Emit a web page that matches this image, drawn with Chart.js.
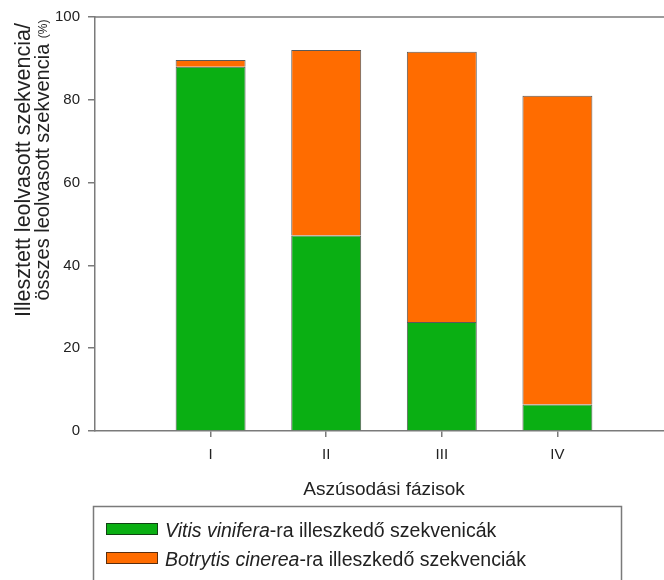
<!DOCTYPE html>
<html>
<head>
<meta charset="utf-8">
<script src="https://cdn.jsdelivr.net/npm/chart.js@4/dist/chart.umd.min.js"></script>
<style>
  html, body { margin: 0; padding: 0; background: #fff; overflow: hidden; }
  canvas { display: block; }
</style>
</head>
<body>
<canvas id="chart" width="664" height="580"></canvas>
<script>
// Phases of noble-rot development and share of mapped reads (%)
const phases = ['I', 'II', 'III', 'IV'];
const vitisShare = [88.0, 47.2, 26.3, 6.4];
const botrytisShare = [1.6, 44.8, 65.3, 74.6];
const yTicks = [0, 20, 40, 60, 80, 100];

const seriesLabels = [
  ['Vitis vinifera', '-ra illeszkedő szekvenicák'],
  ['Botrytis cinerea', '-ra illeszkedő szekvenciák']
];
const xTitle = 'Aszúsodási fázisok';
const yTitleLines = ['Illesztett leolvasott szekvencia/', 'összes leolvasott szekvencia'];
const yTitleUnit = '(%)';

const GREEN = '#0aaf13';
const ORANGE = '#ff6c00';
const AXIS = '#7a7a7a';
const TEXT = '#222';
const BAR_EDGE = 'rgba(20,20,20,0.7)';
const FONT = '"Liberation Sans", Arial, sans-serif';

const toPoints = vals => vals.map((v, i) => ({ x: i + 1, y: v }));

// Frame line, axis titles and the boxed legend
const decorations = {
  id: 'decorations',
  afterDraw(chart) {
    const { ctx, chartArea: a } = chart;
    ctx.save();

    // top frame line
    ctx.strokeStyle = AXIS;
    ctx.lineWidth = 1.5;
    ctx.beginPath();
    ctx.moveTo(a.left, a.top);
    ctx.lineTo(a.right, a.top);
    ctx.stroke();

    // x axis title
    ctx.fillStyle = TEXT;
    ctx.font = '19px ' + FONT;
    ctx.textAlign = 'center';
    ctx.textBaseline = 'alphabetic';
    ctx.fillText(xTitle, 384, 495);

    // y axis title, two rotated lines
    ctx.save();
    ctx.translate(24, 170);
    ctx.rotate(-Math.PI / 2);
    ctx.textBaseline = 'middle';
    ctx.textAlign = 'center';
    ctx.font = '21.5px ' + FONT;
    ctx.fillText(yTitleLines[0], 0, 0);
    ctx.restore();

    ctx.save();
    ctx.translate(43, 160);
    ctx.rotate(-Math.PI / 2);
    ctx.textBaseline = 'middle';
    ctx.font = '20px ' + FONT;
    const w1 = ctx.measureText(yTitleLines[1] + ' ').width;
    ctx.font = '12px ' + FONT;
    const w2 = ctx.measureText(yTitleUnit).width;
    const start = -(w1 + w2) / 2;
    ctx.textAlign = 'left';
    ctx.font = '20px ' + FONT;
    ctx.fillText(yTitleLines[1] + ' ', start, 0);
    ctx.font = '12px ' + FONT;
    ctx.fillText(yTitleUnit, start + w1, 1);
    ctx.restore();

    // legend box
    ctx.strokeStyle = AXIS;
    ctx.lineWidth = 1.5;
    ctx.strokeRect(93.5, 506.5, 528, 120);

    const colors = chart.data.datasets.map(d => d.backgroundColor);
    const rows = [529, 558];
    seriesLabels.forEach((lab, i) => {
      const yc = rows[i];
      ctx.fillStyle = colors[i];
      ctx.fillRect(106, yc - 6, 52, 12);
      ctx.strokeStyle = BAR_EDGE;
      ctx.lineWidth = 1;
      ctx.strokeRect(106.5, yc - 5.5, 51, 11);

      ctx.fillStyle = TEXT;
      ctx.textAlign = 'left';
      ctx.textBaseline = 'alphabetic';
      ctx.font = 'italic 19.5px ' + FONT;
      ctx.fillText(lab[0], 165, yc + 8);
      const iw = ctx.measureText(lab[0]).width;
      ctx.font = '19.5px ' + FONT;
      ctx.fillText(lab[1], 165 + iw, yc + 8);
    });

    ctx.restore();
  }
};

new Chart(document.getElementById('chart'), {
  type: 'bar',
  data: {
    datasets: [
      {
        label: seriesLabels[0].join(''),
        data: toPoints(vitisShare),
        backgroundColor: GREEN,
        borderColor: BAR_EDGE,
        borderWidth: 1
      },
      {
        label: seriesLabels[1].join(''),
        data: toPoints(botrytisShare),
        backgroundColor: ORANGE,
        borderColor: BAR_EDGE,
        borderWidth: 1
      }
    ]
  },
  options: {
    responsive: false,
    animation: false,
    events: [],
    layout: { padding: { top: 16, right: 0, left: 0, bottom: 0 } },
    datasets: { bar: { categoryPercentage: 1, barPercentage: 0.605 } },
    plugins: { legend: { display: false }, tooltip: { enabled: false }, title: { display: false } },
    scales: {
      x: {
        type: 'linear',
        stacked: true,
        offset: false,
        min: 0,
        max: 4.922,
        afterBuildTicks: s => { s.ticks = phases.map((_, i) => ({ value: i + 1 })); },
        afterFit: s => { s.height = 149; },
        ticks: {
          autoSkip: false,
          maxRotation: 0,
          padding: 9,
          color: TEXT,
          font: { family: FONT, size: 15 },
          callback: v => phases[v - 1] ?? ''
        },
        grid: { offset: false, drawOnChartArea: false, tickLength: 6, color: AXIS, lineWidth: 1.5 },
        border: { color: AXIS, width: 1.5 }
      },
      y: {
        stacked: true,
        min: 0,
        max: 100,
        afterBuildTicks: s => { s.ticks = yTicks.map(v => ({ value: v })); },
        afterFit: s => { s.width = 95; },
        ticks: {
          padding: 8,
          color: TEXT,
          font: { family: FONT, size: 15 }
        },
        grid: { drawOnChartArea: false, tickLength: 7, color: AXIS, lineWidth: 1.5 },
        border: { color: AXIS, width: 1.5 }
      }
    }
  },
  plugins: [decorations]
});
</script>
</body>
</html>
